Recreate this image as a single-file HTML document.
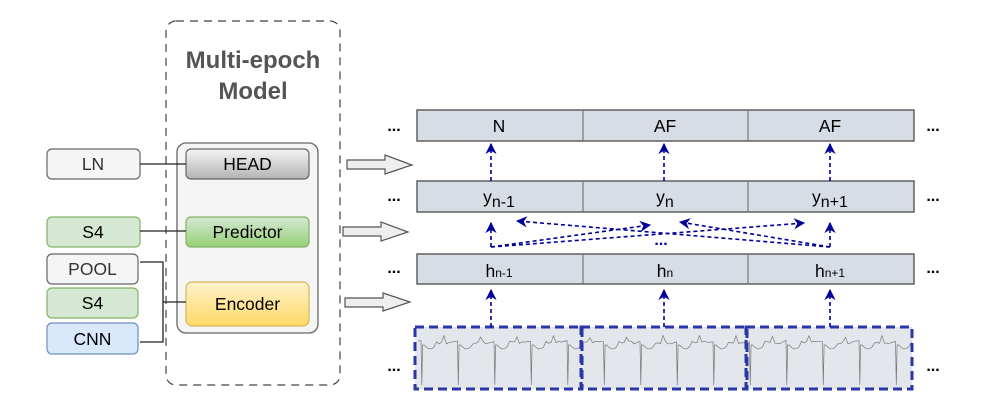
<!DOCTYPE html>
<html><head><meta charset="utf-8"><style>
html,body{margin:0;padding:0;background:#fff;}
svg{display:block;font-family:"Liberation Sans",Arial,sans-serif;}
</style></head><body>
<svg id="s" width="996" height="415" viewBox="0 0 996 415" xmlns="http://www.w3.org/2000/svg">
<defs>
<linearGradient id="gh" x1="0" y1="0" x2="0" y2="1"><stop offset="0" stop-color="#f5f5f5"/><stop offset="1" stop-color="#b3b3b3"/></linearGradient>
<linearGradient id="gp" x1="0" y1="0" x2="0" y2="1"><stop offset="0" stop-color="#d5e8d4"/><stop offset="1" stop-color="#97d077"/></linearGradient>
<linearGradient id="ge" x1="0" y1="0" x2="0" y2="1"><stop offset="0" stop-color="#fff2cc"/><stop offset="1" stop-color="#ffd966"/></linearGradient>
<marker id="ah" viewBox="0 0 10 10" refX="9" refY="5" markerWidth="7" markerHeight="7" orient="auto"><path d="M0,0 L10,5 L0,10 L3,5 z" fill="#000099"/></marker>
<clipPath id="ec"><rect x="415" y="327" width="497" height="62"/></clipPath>
</defs>
<rect x="166" y="21" width="174" height="364" rx="10" fill="none" stroke="#444" stroke-width="1.2" stroke-dasharray="8,6"/>
<text x="253" y="68" font-size="24" font-weight="bold" fill="#555" text-anchor="middle">Multi-epoch</text>
<text x="253" y="99" font-size="24" font-weight="bold" fill="#555" text-anchor="middle">Model</text>
<rect x="177" y="143" width="141" height="190" rx="9" fill="#f5f5f5" stroke="#666" stroke-width="1.3"/>
<rect x="186" y="149" width="123" height="30" rx="5" fill="url(#gh)" stroke="#666" stroke-width="1.2"/>
<text x="247.5" y="170" font-size="17.5" text-anchor="middle" fill="#000">HEAD</text>
<rect x="186" y="217" width="123" height="30" rx="5" fill="url(#gp)" stroke="#82b366" stroke-width="1.2"/>
<text x="247.5" y="238" font-size="17.5" text-anchor="middle" fill="#000">Predictor</text>
<rect x="186" y="282" width="123" height="44" rx="6" fill="url(#ge)" stroke="#d6b656" stroke-width="1.2"/>
<text x="247.5" y="310" font-size="17.5" text-anchor="middle" fill="#000">Encoder</text>
<rect x="47" y="149" width="93" height="30" rx="5" fill="#f5f5f5" stroke="#666" stroke-width="1.2"/>
<text x="93" y="170" font-size="17.5" text-anchor="middle" fill="#333">LN</text>
<rect x="47" y="217" width="93" height="30" rx="5" fill="#d5e8d4" stroke="#82b366" stroke-width="1.2"/>
<text x="93" y="238" font-size="17.5" text-anchor="middle" fill="#000">S4</text>
<rect x="47" y="254" width="91" height="30" rx="5" fill="#f5f5f5" stroke="#666" stroke-width="1.2"/>
<text x="92.5" y="275" font-size="17.5" text-anchor="middle" fill="#333">POOL</text>
<rect x="47" y="288" width="91" height="30" rx="5" fill="#d5e8d4" stroke="#82b366" stroke-width="1.2"/>
<text x="92.5" y="309" font-size="17.5" text-anchor="middle" fill="#000">S4</text>
<rect x="47" y="323" width="91" height="31" rx="5" fill="#dae8fc" stroke="#6c8ebf" stroke-width="1.2"/>
<text x="92.5" y="345" font-size="17.5" text-anchor="middle" fill="#000">CNN</text>
<g stroke="#222" stroke-width="1.3" fill="none">
<path d="M140,164 H186"/><path d="M140,231 H186"/>
<path d="M140,262 H163 V342 H140"/><path d="M163,302 H186"/>
</g>
<g fill="#eee" stroke="#555" stroke-width="1.2">
<path d="M347,160 H385 V155 L412,165 L385,174 V169 H347 Z"/>
<path d="M343,227 H381 V222 L408,232 L381,241 V236 H343 Z"/>
<path d="M345,298 H383 V293 L410,302 L383,311 V307 H345 Z"/>
</g>
<g fill="#d6dde4" stroke="#555" stroke-width="1.4">
<rect x="417" y="110" width="497" height="31"/>
<rect x="417" y="181" width="497" height="31"/>
<rect x="417" y="254" width="497" height="30"/>
</g>
<g stroke="#777" stroke-width="1.2">
<line x1="583" y1="110" x2="583" y2="141"/><line x1="748" y1="110" x2="748" y2="141"/>
<line x1="583" y1="181" x2="583" y2="212"/><line x1="748" y1="181" x2="748" y2="212"/>
<line x1="583" y1="254" x2="583" y2="284"/><line x1="748" y1="254" x2="748" y2="284"/>
</g>
<g font-size="17.5" fill="#000" text-anchor="middle">
<text x="499" y="132">N</text><text x="665" y="132">AF</text><text x="830" y="132">AF</text>
<text x="499" y="203">y<tspan font-size="16" dy="4">n-1</tspan></text>
<text x="665" y="203">y<tspan font-size="16" dy="4">n</tspan></text>
<text x="830" y="203">y<tspan font-size="16" dy="4">n+1</tspan></text>
<text x="499" y="277">h<tspan font-size="12">n-1</tspan></text>
<text x="665" y="277">h<tspan font-size="12">n</tspan></text>
<text x="830" y="277">h<tspan font-size="12">n+1</tspan></text>
</g>
<g font-size="16" font-weight="bold" fill="#000" text-anchor="middle">
<text x="394" y="131">...</text><text x="394" y="201">...</text><text x="394" y="273">...</text><text x="394" y="371">...</text>
<text x="933" y="131">...</text><text x="933" y="201">...</text><text x="933" y="273">...</text><text x="933" y="371">...</text>
<text x="661" y="245" fill="#000099">...</text>
</g>
<rect x="415" y="327" width="497" height="62" fill="#e3e7ec"/>
<path id="ecg" d="" fill="none" stroke="#777" stroke-width="0.7" clip-path="url(#ec)"/>
<g fill="none" stroke="#2a35a8" stroke-width="3" stroke-dasharray="9,5">
<rect x="415" y="327" width="167" height="62"/>
<rect x="581" y="327" width="166" height="62"/>
<rect x="746" y="327" width="166" height="62"/>
</g>
<g stroke="#000099" stroke-width="1.6" stroke-dasharray="4,3" fill="none" marker-end="url(#ah)">
<path d="M491,181 V144"/><path d="M664,181 V144"/><path d="M830,181 V144"/>
<path d="M491,247 V223"/><path d="M830,247 V223"/>
<path d="M491,327 V290"/><path d="M664,327 V290"/><path d="M830,327 V290"/>
<path d="M491,247 L650,225"/><path d="M491,247 L804,223"/>
<path d="M830,247 L517,221"/><path d="M830,247 L680,222"/>
</g>
</svg>
<script>
var seed=3;function r(){seed=(seed*9301+49297)%233280;return seed/233280;}
var beat=36.5,start=418,d="M418,341";
for(var i=0;i<14;i++){var b=start+i*beat;
 d+=" L"+(b+3)+","+(340+r()*2).toFixed(1)+" L"+(b+3.8)+",385 L"+(b+4.6)+",345";
 for(var k=6;k<36;k+=2.5){var y=k<18?345+Math.sin((k-6)/12*Math.PI)*4:341+r()*3;if(k>24&&k<28)y=335+r()*3;d+=" L"+(b+k).toFixed(1)+","+y.toFixed(1);}
}
document.getElementById("ecg").setAttribute("d",d);
</script>
</body></html>
